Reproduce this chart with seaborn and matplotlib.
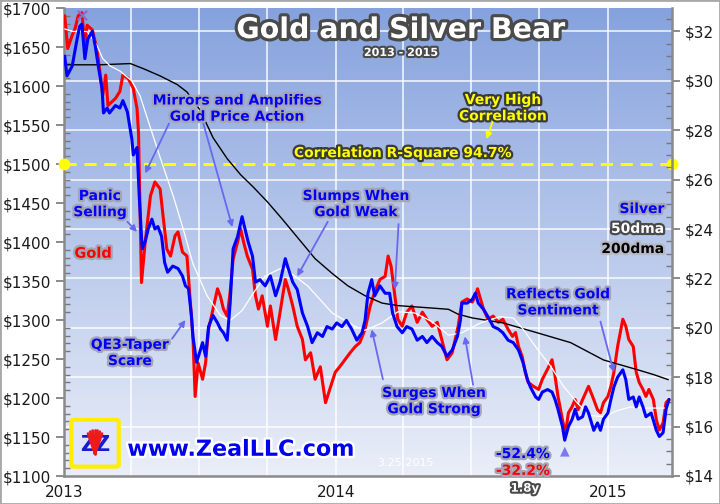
import numpy as np
import pandas as pd
import matplotlib
matplotlib.use("Agg")
import matplotlib.pyplot as plt
import matplotlib.dates as mdates
import matplotlib.patheffects as pe
from matplotlib.ticker import MultipleLocator, FuncFormatter
from matplotlib.patches import FancyBboxPatch, Rectangle
import seaborn as sns

# values (gold on the left axis, silver on the right)
gold_dates = [
    "2013-01-02", "2013-01-06", "2013-01-12", "2013-01-16", "2013-01-20", "2013-01-25", "2013-01-29", "2013-02-01", "2013-02-08", "2013-02-14",
    "2013-02-18", "2013-02-22", "2013-02-26", "2013-03-01", "2013-03-11", "2013-03-17", "2013-03-21", "2013-03-28", "2013-04-04", "2013-04-09",
    "2013-04-11", "2013-04-15", "2013-04-20", "2013-04-27", "2013-05-03", "2013-05-10", "2013-05-14", "2013-05-19", "2013-05-24", "2013-05-30",
    "2013-06-03", "2013-06-09", "2013-06-15", "2013-06-19", "2013-06-23", "2013-06-26", "2013-06-30", "2013-07-06", "2013-07-10", "2013-07-14",
    "2013-07-20", "2013-07-26", "2013-07-30", "2013-08-03", "2013-08-08", "2013-08-12", "2013-08-16", "2013-08-22", "2013-08-26", "2013-08-30",
    "2013-09-04", "2013-09-11", "2013-09-15", "2013-09-19", "2013-09-24", "2013-10-01", "2013-10-05", "2013-10-12", "2013-10-18", "2013-10-25",
    "2013-10-29", "2013-11-04", "2013-11-10", "2013-11-17", "2013-11-21", "2013-11-28", "2013-12-04", "2013-12-11", "2013-12-18", "2013-12-25",
    "2013-12-31", "2014-01-06", "2014-01-13", "2014-01-20", "2014-01-27", "2014-02-02", "2014-02-09", "2014-02-16", "2014-02-22", "2014-03-01",
    "2014-03-08", "2014-03-12", "2014-03-16", "2014-03-21", "2014-03-25", "2014-03-31", "2014-04-06", "2014-04-13", "2014-04-20", "2014-04-27",
    "2014-05-03", "2014-05-10", "2014-05-17", "2014-05-23", "2014-05-30", "2014-06-06", "2014-06-10", "2014-06-14", "2014-06-19", "2014-06-26",
    "2014-07-03", "2014-07-07", "2014-07-10", "2014-07-18", "2014-07-24", "2014-07-31", "2014-08-07", "2014-08-13", "2014-08-20", "2014-08-26",
    "2014-08-30", "2014-09-03", "2014-09-08", "2014-09-12", "2014-09-16", "2014-09-23", "2014-09-30", "2014-10-05", "2014-10-12", "2014-10-18",
    "2014-10-22", "2014-10-26", "2014-11-01", "2014-11-05", "2014-11-09", "2014-11-14", "2014-11-18", "2014-11-22", "2014-11-28", "2014-12-02",
    "2014-12-06", "2014-12-13", "2014-12-18", "2014-12-22", "2014-12-26", "2015-01-01", "2015-01-05", "2015-01-09", "2015-01-14", "2015-01-21",
    "2015-01-25", "2015-01-29", "2015-02-04", "2015-02-08", "2015-02-12", "2015-02-17", "2015-02-21", "2015-02-25", "2015-03-03", "2015-03-07",
    "2015-03-11", "2015-03-16", "2015-03-20", "2015-03-24",
]
gold_price = [
    1690, 1648, 1665, 1674, 1690, 1694, 1652, 1678, 1672, 1648,
    1620, 1588, 1614, 1575, 1584, 1593, 1614, 1610, 1597, 1571,
    1540, 1348, 1400, 1459, 1477, 1468, 1433, 1391, 1382, 1408,
    1413, 1387, 1382, 1331, 1279, 1202, 1245, 1224, 1245, 1288,
    1314, 1340, 1330, 1314, 1305, 1336, 1378, 1400, 1417, 1400,
    1382, 1365, 1331, 1314, 1331, 1292, 1318, 1275, 1310, 1352,
    1340, 1318, 1292, 1275, 1249, 1258, 1224, 1240, 1194, 1215,
    1233, 1240, 1249, 1258, 1266, 1271, 1288, 1318, 1336, 1352,
    1356, 1382, 1369, 1331, 1301, 1292, 1310, 1318, 1297, 1310,
    1301, 1292, 1297, 1275, 1249, 1258, 1275, 1292, 1323, 1327,
    1323, 1331, 1340, 1314, 1301, 1305, 1297, 1301, 1288, 1279,
    1284, 1266, 1253, 1233, 1220, 1215, 1211, 1224, 1237, 1249,
    1228, 1202, 1172, 1155, 1181, 1189, 1198, 1185, 1198, 1207,
    1215, 1198, 1185, 1181, 1194, 1202, 1215, 1233, 1266, 1301,
    1292, 1275, 1266, 1233, 1220, 1211, 1202, 1211, 1198, 1172,
    1159, 1168, 1194, 1198,
]

silver_dates = [
    "2013-01-02", "2013-01-05", "2013-01-12", "2013-01-18", "2013-01-22", "2013-01-25", "2013-01-29", "2013-02-02", "2013-02-08", "2013-02-12",
    "2013-02-16", "2013-02-21", "2013-02-23", "2013-02-28", "2013-03-03", "2013-03-11", "2013-03-17", "2013-03-21", "2013-03-27", "2013-04-02",
    "2013-04-04", "2013-04-09", "2013-04-12", "2013-04-16", "2013-04-20", "2013-04-24", "2013-04-29", "2013-05-03", "2013-05-07", "2013-05-12",
    "2013-05-16", "2013-05-20", "2013-05-27", "2013-06-03", "2013-06-09", "2013-06-13", "2013-06-17", "2013-06-21", "2013-06-23", "2013-06-28",
    "2013-07-06", "2013-07-10", "2013-07-14", "2013-07-20", "2013-07-26", "2013-07-30", "2013-08-03", "2013-08-08", "2013-08-12", "2013-08-16",
    "2013-08-22", "2013-08-28", "2013-09-01", "2013-09-05", "2013-09-11", "2013-09-15", "2013-09-21", "2013-09-28", "2013-10-05", "2013-10-12",
    "2013-10-18", "2013-10-25", "2013-10-29", "2013-11-04", "2013-11-10", "2013-11-17", "2013-11-24", "2013-11-30", "2013-12-07", "2013-12-14",
    "2013-12-20", "2013-12-27", "2014-01-02", "2014-01-09", "2014-01-15", "2014-01-22", "2014-01-29", "2014-02-05", "2014-02-09", "2014-02-13",
    "2014-02-18", "2014-02-22", "2014-03-01", "2014-03-08", "2014-03-14", "2014-03-18", "2014-03-24", "2014-03-31", "2014-04-06", "2014-04-13",
    "2014-04-20", "2014-04-27", "2014-05-03", "2014-05-10", "2014-05-17", "2014-05-23", "2014-05-30", "2014-06-06", "2014-06-13", "2014-06-17",
    "2014-06-19", "2014-06-26", "2014-07-03", "2014-07-07", "2014-07-11", "2014-07-18", "2014-07-24", "2014-07-31", "2014-08-07", "2014-08-13",
    "2014-08-20", "2014-08-27", "2014-09-03", "2014-09-09", "2014-09-15", "2014-09-19", "2014-09-26", "2014-09-30", "2014-10-05", "2014-10-12",
    "2014-10-18", "2014-10-22", "2014-10-26", "2014-11-01", "2014-11-04", "2014-11-09", "2014-11-14", "2014-11-18", "2014-11-22", "2014-11-28",
    "2014-12-02", "2014-12-06", "2014-12-13", "2014-12-18", "2014-12-22", "2014-12-26", "2015-01-01", "2015-01-05", "2015-01-09", "2015-01-14",
    "2015-01-21", "2015-01-25", "2015-01-29", "2015-02-04", "2015-02-08", "2015-02-12", "2015-02-17", "2015-02-21", "2015-02-28", "2015-03-07",
    "2015-03-11", "2015-03-16", "2015-03-20", "2015-03-24",
]
silver_price = [
    31.0, 30.2, 30.6, 31.6, 32.2, 32.3, 30.9, 31.7, 32.0, 31.4,
    30.6, 29.7, 28.7, 28.9, 28.7, 29.0, 28.9, 29.2, 28.75, 27.65,
    27.0, 27.3, 25.3, 23.2, 23.5, 24.0, 24.4, 24.0, 24.1, 23.7,
    22.65, 22.25, 22.5, 22.4, 22.1, 21.7, 21.6, 20.5, 19.65, 18.6,
    19.4, 18.85, 20.05, 20.5, 20.2, 19.95, 19.8, 19.5, 21.0, 23.2,
    23.7, 24.5, 24.0, 23.5, 22.9, 21.85, 21.95, 21.7, 22.1, 21.3,
    21.85, 22.8, 22.4, 21.85, 21.55, 20.6, 20.05, 19.4, 19.8, 19.65,
    20.05, 19.95, 20.2, 20.05, 20.3, 19.95, 19.5, 19.8, 20.3, 21.4,
    21.95, 21.3, 21.7, 21.4, 21.4, 20.6, 20.05, 19.8, 20.05, 19.95,
    19.5, 19.65, 19.4, 19.65, 19.4, 19.25, 18.85, 19.1, 19.65, 20.3,
    21.0, 21.0, 21.15, 21.4, 21.0, 20.75, 20.45, 20.05, 19.95, 19.8,
    19.5, 19.4, 19.1, 18.6, 17.9, 17.6, 17.2, 17.1, 17.4, 17.5,
    17.4, 17.1, 16.7, 16.0, 15.45, 16.0, 16.3, 16.7, 16.3, 16.4,
    16.8, 16.55, 15.85, 16.15, 15.85, 16.3, 16.55, 17.1, 17.6, 18.0,
    18.3, 17.9, 17.1, 17.2, 16.8, 17.2, 16.8, 16.4, 16.55, 15.85,
    15.6, 15.75, 16.7, 17.1,
]

ma50_dates = [
    "2013-01-02", "2013-01-13", "2013-02-01", "2013-02-14", "2013-02-22", "2013-03-04", "2013-03-17", "2013-04-02", "2013-04-13", "2013-04-27",
    "2013-05-10", "2013-05-28", "2013-06-10", "2013-06-23", "2013-07-12", "2013-07-30", "2013-08-12", "2013-08-28", "2013-09-12", "2013-09-28",
    "2013-10-22", "2013-11-24", "2013-12-27", "2014-01-27", "2014-02-09", "2014-03-04", "2014-03-25", "2014-04-17", "2014-05-10", "2014-06-01",
    "2014-06-19", "2014-07-14", "2014-08-09", "2014-08-27", "2014-09-09", "2014-09-28", "2014-10-16", "2014-11-02", "2014-11-21", "2014-12-08",
    "2014-12-26", "2015-01-14", "2015-02-01", "2015-02-18", "2015-03-23",
]
ma50 = [
    32.1, 32.0, 32.0, 31.45, 30.9, 30.6, 30.4, 30.0, 29.4, 28.1,
    26.9, 25.3, 24.0, 22.6, 21.3, 20.5, 20.3, 20.7, 21.4, 22.1,
    22.45, 21.7, 20.6, 20.05, 19.9, 20.2, 20.65, 20.6, 20.25, 19.7,
    19.8, 20.2, 20.45, 20.4, 19.95, 19.15, 18.45, 17.65, 16.95, 16.45,
    16.4, 16.65, 16.8, 16.75, 16.75,
]

ma200_dates = [
    "2013-01-02", "2013-02-18", "2013-03-31", "2013-04-17", "2013-05-10", "2013-06-02", "2013-06-15", "2013-07-03", "2013-07-20", "2013-08-08",
    "2013-08-26", "2013-09-12", "2013-10-01", "2013-10-21", "2013-11-12", "2013-12-04", "2013-12-27", "2014-01-17", "2014-02-09", "2014-03-04",
    "2014-03-25", "2014-04-17", "2014-05-10", "2014-06-01", "2014-06-14", "2014-07-03", "2014-08-13", "2014-09-28", "2014-11-12", "2014-12-26",
    "2015-01-18", "2015-02-10", "2015-03-04", "2015-03-23",
]
ma200 = [
    30.65, 30.65, 30.7, 30.5, 30.2, 29.85, 29.55, 28.8, 27.7, 26.85,
    26.2, 25.7, 25.1, 24.4, 23.6, 22.8, 22.2, 21.7, 21.3, 21.0,
    20.9, 20.85, 20.8, 20.75, 20.55, 20.4, 20.2, 19.8, 19.4, 18.7,
    18.5, 18.3, 18.1, 17.9,
]

gold_lim = (1100, 1700)
silver_lim = (14, 32.95)
x_start, x_end = "2013-01-01", "2015-03-28"
r_square_level = 1500

sns.set_style("white")
plt.rcParams["font.family"] = ["DejaVu Sans"]

gold = pd.DataFrame({"date": pd.to_datetime(gold_dates), "price": gold_price})
silver = pd.DataFrame({"date": pd.to_datetime(silver_dates), "price": silver_price})
s50 = pd.DataFrame({"date": pd.to_datetime(ma50_dates), "price": ma50})
s200 = pd.DataFrame({"date": pd.to_datetime(ma200_dates), "price": ma200})

fig = plt.figure(figsize=(7.2, 5.04), dpi=100)
rect = [64 / 720, 28 / 504, 608 / 720, 468 / 504]

# gradient background
bg = fig.add_axes(rect)
top = np.array([134, 162, 222]) / 255
bot = np.array([234, 238, 248]) / 255
t = np.linspace(0, 1, 256)[:, None, None]
bg.imshow(top + (bot - top) * t, extent=[0, 1, 0, 1], aspect="auto")
bg.set_xlim(0, 1)
bg.set_ylim(0, 1)
bg.axis("off")

ax = fig.add_axes(rect)
ax.patch.set_visible(False)
ax2 = ax.twinx()

x0, x1 = mdates.date2num(pd.Timestamp(x_start)), mdates.date2num(pd.Timestamp(x_end))

# white grid: quarterly verticals, horizontals on the silver scale
ax.xaxis.set_major_locator(mdates.YearLocator())
ax.xaxis.set_minor_locator(mdates.MonthLocator(bymonth=[1, 4, 7, 10]))
ax.xaxis.set_major_formatter(mdates.DateFormatter("%Y"))
ax.grid(which="both", axis="x", color="white", lw=1.2, alpha=0.85)
for s in np.arange(16, 33, 2):
    g = gold_lim[0] + (s - silver_lim[0]) * (gold_lim[1] - gold_lim[0]) / (silver_lim[1] - silver_lim[0])
    ax.axhline(g, color="white", lw=1.2, alpha=0.85, zorder=0.5)

sns.lineplot(data=gold, x="date", y="price", ax=ax, color="#ff0000", lw=2.2, zorder=3)
sns.lineplot(data=s200, x="date", y="price", ax=ax2, color="black", lw=1.0, zorder=2)
sns.lineplot(data=s50, x="date", y="price", ax=ax2, color="white", lw=0.9, zorder=2)
sns.lineplot(data=silver, x="date", y="price", ax=ax2, color="#0000ff", lw=2.2, zorder=3)

# correlation line
ax.axhline(r_square_level, color="#ffff00", lw=2.2, dashes=(4, 2.5), zorder=4)
ax.scatter([x0, x1], [r_square_level] * 2, s=55, color="#ffff00", zorder=5, clip_on=False)

ax.set_xlim(x0, x1)
ax.set_ylim(*gold_lim)
ax2.set_ylim(*silver_lim)
ax.set_xlabel("")
ax.set_ylabel("")
ax2.set_ylabel("")

money = FuncFormatter(lambda v, _: f"${v:.0f}")
ax.yaxis.set_major_locator(MultipleLocator(50))
ax.yaxis.set_minor_locator(MultipleLocator(10))
ax.yaxis.set_major_formatter(money)
ax2.yaxis.set_major_locator(MultipleLocator(2))
ax2.yaxis.set_minor_locator(MultipleLocator(0.5))
ax2.yaxis.set_major_formatter(money)

for a in (ax, ax2):
    a.tick_params(axis="y", which="major", direction="out", length=6, width=1.2, color="#777777",
                  labelsize=11, labelcolor="#1a1a1a", pad=3)
    a.tick_params(axis="y", which="minor", direction="in", length=4, width=1, color="#777777")
ax.tick_params(axis="x", which="major", direction="inout", length=9, width=1.2, color="#777777",
               labelsize=11, labelcolor="#1a1a1a", pad=2)
ax.tick_params(axis="x", which="minor", length=0)

for name, sp in ax.spines.items():
    sp.set_visible(name in ("left", "bottom"))
    sp.set_color("#8a8a8a")
    sp.set_linewidth(1.8)
for name, sp in ax2.spines.items():
    sp.set_visible(name == "right")
    sp.set_color("#8a8a8a")
    sp.set_linewidth(1.8)

# silver low marker and peak cross
low = silver.loc[silver["price"].idxmin()]
ax2.annotate("▲", xy=(mdates.date2num(low["date"]), low["price"]), xytext=(0, -3),
             textcoords="offset points", ha="center", va="top", color="#7a7aee", fontsize=9, zorder=6)
peak = gold.loc[gold["price"].idxmax()]
ax.scatter([mdates.date2num(peak["date"])], [peak["price"] - 3], marker="x", s=45,
           color="#8a6acc", lw=1.5, zorder=6)


def label(x, y, s, color, size=10, halo="#a4a4b4", ha="center", lw=3.2):
    ax2.text(x, y, s, transform=ax2.transAxes, color=color, fontsize=size, fontweight="bold",
             ha=ha, va="center", linespacing=1.2, zorder=10, clip_on=False,
             path_effects=[pe.withStroke(linewidth=lw, foreground=halo)])


def arrow(tail, head, color="#6868f0"):
    d = lambda p: (mdates.date2num(pd.Timestamp(p[0])), p[1])
    ax2.annotate("", xy=d(head), xytext=d(tail), xycoords=ax.transData, textcoords=ax.transData,
                 arrowprops=dict(arrowstyle="-|>", color=color, lw=1.3, mutation_scale=9,
                                 shrinkA=0, shrinkB=0), zorder=9)


label(0.554, 0.953, "Gold and Silver Bear", "white", size=20.5, halo="#4a4a4a", lw=4.5)
label(0.554, 0.904, "2013 - 2015", "white", size=8, halo="#4a4a4a", lw=3)

label(0.2845, 0.785, "Mirrors and Amplifies\nGold Price Action", "#0000ff")
arrow(("2013-05-22", 1552), ("2013-04-20", 1488))
arrow(("2013-07-07", 1552), ("2013-08-15", 1419))

label(0.722, 0.786, "Very High\nCorrelation", "#ffff00", halo="#3a3a3a")
arrow(("2014-07-31", 1556), ("2014-07-22", 1532), color="#ffff00")
label(0.5576, 0.690, "Correlation R-Square 94.7%", "#ffff00", halo="#3a3a3a")

label(0.059, 0.581, "Panic\nSelling", "#0000ff")
arrow(("2013-03-27", 1426), ("2013-04-09", 1413))
label(0.048, 0.476, "Gold", "#ff0000", size=10.5)

label(0.1086, 0.263, "QE3-Taper\nScare", "#0000ff")
arrow(("2013-05-26", 1276), ("2013-06-13", 1300))

label(0.480, 0.581, "Slumps When\nGold Weak", "#0000ff")
arrow(("2013-12-21", 1426), ("2013-11-10", 1356))
arrow(("2014-03-26", 1423), ("2014-03-21", 1339))

label(0.6086, 0.160, "Surges When\nGold Strong", "#0000ff")
arrow(("2014-03-05", 1224), ("2014-02-18", 1288))
arrow(("2014-07-04", 1217), ("2014-06-23", 1279))

label(0.8125, 0.371, "Reflects Gold\nSentiment", "#0000ff")
arrow(("2014-12-22", 1298), ("2015-01-09", 1233))

label(0.987, 0.5705, "Silver", "#0000ff", size=10, ha="right")
label(0.987, 0.528, "50dma", "white", size=10, halo="#4a4a4a", ha="right")
label(0.987, 0.485, "200dma", "black", size=10, halo="#b8b8c4", ha="right")

label(0.755, 0.047, "-52.4%", "#0000ff", size=10)
label(0.755, 0.011, "-32.2%", "#ff0000", size=10)
label(0.758, -0.026, "1.8y", "white", size=8.5, halo="#4a4a4a", lw=3)

ax2.text(0.561, 0.028, "3.25.2015", transform=ax2.transAxes, color="white", fontsize=8,
         ha="center", va="center", zorder=10)
label(0.291, 0.056, "www.ZealLLC.com", "#0000ee", size=16, halo="white", lw=3.5)

# logo
ax2.add_patch(FancyBboxPatch((0.016, 0.024), 0.07, 0.092, boxstyle="round,pad=0.004",
                             transform=ax2.transAxes, facecolor="#dfe4ff", edgecolor="#ffee00",
                             lw=3, zorder=10))
ax2.text(0.051, 0.066, "ZZ", transform=ax2.transAxes, color="#1a1ad0", fontsize=15,
         fontweight="bold", ha="center", va="center", zorder=11)
for k in np.linspace(-0.55, 0.55, 7):
    ax2.plot([0.051, 0.051 + 0.022 * np.sin(k)], [0.048, 0.048 + 0.05 * np.cos(k)],
             transform=ax2.transAxes, color="#ee1a1a", lw=2, zorder=12, clip_on=False)

fig.patches.append(Rectangle((0, 0), 1, 1, transform=fig.transFigure, fill=False,
                             edgecolor="#a8a8a8", lw=2))

fig.savefig("out.png", dpi=100)
